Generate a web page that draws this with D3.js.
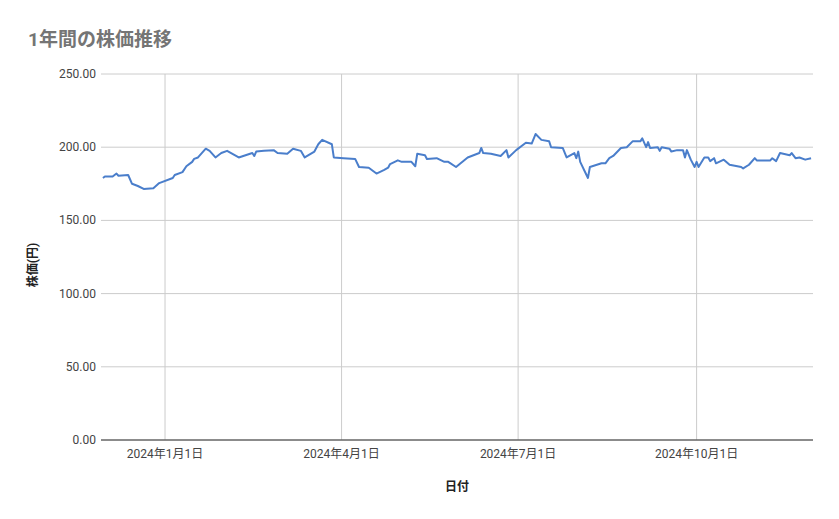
<!DOCTYPE html>
<html><head><meta charset="utf-8">
<script src="https://cdn.jsdelivr.net/npm/d3@7"></script>
<style>body{margin:0;background:#fff;font-family:Roboto,"Noto Sans CJK JP",sans-serif;}</style>
</head><body><svg id="c" width="839" height="519"></svg>
<script>
const startDate = "2023-11-29";
const endDate = "2024-11-30";
const dayOffsets = [1,2,6,8,9,14,16,19,22,27,30,37,38,42,44,47,48,50,54,56,59,62,65,71,78,79,80,84,89,91,96,99,103,105,110,112,114,119,120,125,131,133,138,142,146,148,149,153,155,160,162,163,167,168,173,177,179,183,189,195,196,197,201,206,209,210,214,219,222,224,227,231,232,238,240,244,245,246,247,251,252,258,260,262,264,268,271,274,278,279,281,282,283,287,288,289,293,294,297,300,301,302,304,306,307,308,311,313,314,316,317,321,324,330,331,334,337,338,345,346,348,350,355,356,358,360,363,366];
const prices = [179,180,180,182,180.5,181,175,173.5,171.5,172,175.5,179,181,183,187,190,192,193,199,197.5,193,196,197.5,193,196,194,197,197.5,198,196,195.5,199,197.5,193,197,202,205,202,193,192.5,192,186.5,186,182,184.5,186,188.5,191,190,190,187,195.5,194.5,192,192.5,190,190,186.5,193,196,199.5,196,195.5,194,198,193,198,203,202.5,209,205,204,200,199.5,193,196,192.5,197,190,179,186.5,189,189,192.5,194,199.5,200,204,204,206,200,203.5,199.5,200,197.5,200,199,197,198,198,193,198,191.5,186.5,190,186.5,193,193,190.5,192.5,189,191.5,188,186.5,185.5,188,192.5,191,191,192.5,190.5,196,194.5,196,192.5,193,191.5,192.5];
const yTicks = [0,50,100,150,200,250];
const xTickDates = ["2024-01-01","2024-04-01","2024-07-01","2024-10-01"];
const title = "1年間の株価推移", yLabel = "株価(円)", xLabel = "日付";

const svg = d3.select("#c");
const m = {l:101, r:813, t:74, b:440};
const parse = d3.utcParse("%Y-%m-%d");
const s0 = parse(startDate);
const data = dayOffsets.map((d,i)=>({date:d3.utcDay.offset(s0,d), v:prices[i]}));
const x = d3.scaleUtc().domain([s0, parse(endDate)]).range([m.l, m.r]);
const y = d3.scaleLinear().domain([0,250]).range([m.b, m.t]);

svg.append("g").selectAll("line").data(yTicks).join("line")
  .attr("x1",m.l).attr("x2",m.r).attr("y1",d=>y(d)).attr("y2",d=>y(d))
  .attr("stroke","#cccccc");
svg.append("g").selectAll("line").data(xTickDates).join("line")
  .attr("x1",d=>x(parse(d))).attr("x2",d=>x(parse(d))).attr("y1",m.t).attr("y2",m.b)
  .attr("stroke","#cccccc");
svg.append("line").attr("x1",m.l).attr("x2",m.r).attr("y1",m.b).attr("y2",m.b).attr("stroke","#333");

svg.append("g").selectAll("text").data(yTicks).join("text")
  .attr("x",96).attr("y",d=>y(d)+4).attr("text-anchor","end")
  .attr("font-size",12).attr("fill","#444").text(d=>d.toFixed(2));
const fmt = s=>{const d=parse(s);return `${d.getUTCFullYear()}年${d.getUTCMonth()+1}月${d.getUTCDate()}日`;};
svg.append("g").selectAll("text").data(xTickDates).join("text")
  .attr("x",d=>x(parse(d))).attr("y",458).attr("text-anchor","middle")
  .attr("font-size",12).attr("fill","#444").text(fmt);

svg.append("path").datum(data)
  .attr("d",d3.line().x(d=>x(d.date)).y(d=>y(d.v)))
  .attr("fill","none").attr("stroke","#4a7ecb").attr("stroke-width",2).attr("stroke-linejoin","round");

svg.append("text").attr("x",28).attr("y",46).attr("font-size",19).attr("font-weight","bold").attr("fill","#757575").text(title);
svg.append("text").attr("transform","translate(37,265) rotate(-90)").attr("text-anchor","middle")
  .attr("font-size",12).attr("font-weight","bold").attr("fill","#222").text(yLabel);
svg.append("text").attr("x",457).attr("y",491).attr("text-anchor","middle")
  .attr("font-size",12).attr("font-weight","bold").attr("fill","#222").text(xLabel);
</script></body></html>
